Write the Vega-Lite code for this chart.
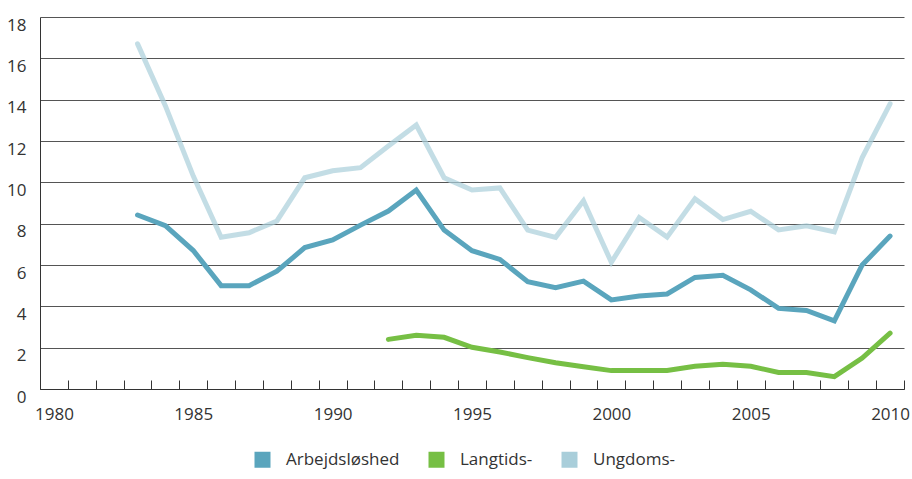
{
  "$schema": "https://vega.github.io/schema/vega-lite/v6.json",
  "width": 864,
  "height": 372,
  "autosize": {"type": "none"},
  "padding": {"left": 40, "top": 17, "right": 8, "bottom": 90},
  "background": "white",
  "config": {
    "view": {"stroke": null},
    "font": "Open Sans",
    "axis": {"labelFont": "Open Sans", "labelFontSize": 17, "labelColor": "#333333", "title": null}
  },
  "data": {
    "values": [
      {"year": 1983, "s": "Ungdoms-", "v": 16.7},
      {"year": 1984, "s": "Ungdoms-", "v": 13.7},
      {"year": 1985, "s": "Ungdoms-", "v": 10.3},
      {"year": 1986, "s": "Ungdoms-", "v": 7.34},
      {"year": 1987, "s": "Ungdoms-", "v": 7.56},
      {"year": 1988, "s": "Ungdoms-", "v": 8.13},
      {"year": 1989, "s": "Ungdoms-", "v": 10.22},
      {"year": 1990, "s": "Ungdoms-", "v": 10.56},
      {"year": 1991, "s": "Ungdoms-", "v": 10.71},
      {"year": 1992, "s": "Ungdoms-", "v": 11.76},
      {"year": 1993, "s": "Ungdoms-", "v": 12.77},
      {"year": 1994, "s": "Ungdoms-", "v": 10.22},
      {"year": 1995, "s": "Ungdoms-", "v": 9.63},
      {"year": 1996, "s": "Ungdoms-", "v": 9.73},
      {"year": 1997, "s": "Ungdoms-", "v": 7.69},
      {"year": 1998, "s": "Ungdoms-", "v": 7.34},
      {"year": 1999, "s": "Ungdoms-", "v": 9.11},
      {"year": 2000, "s": "Ungdoms-", "v": 6.13},
      {"year": 2001, "s": "Ungdoms-", "v": 8.3},
      {"year": 2002, "s": "Ungdoms-", "v": 7.35},
      {"year": 2003, "s": "Ungdoms-", "v": 9.2},
      {"year": 2004, "s": "Ungdoms-", "v": 8.2},
      {"year": 2005, "s": "Ungdoms-", "v": 8.6},
      {"year": 2006, "s": "Ungdoms-", "v": 7.7},
      {"year": 2007, "s": "Ungdoms-", "v": 7.9},
      {"year": 2008, "s": "Ungdoms-", "v": 7.6},
      {"year": 2009, "s": "Ungdoms-", "v": 11.2},
      {"year": 2010, "s": "Ungdoms-", "v": 13.8},
      {"year": 1983, "s": "Arbejdsløshed", "v": 8.42},
      {"year": 1984, "s": "Arbejdsløshed", "v": 7.9},
      {"year": 1985, "s": "Arbejdsløshed", "v": 6.7},
      {"year": 1986, "s": "Arbejdsløshed", "v": 5.0},
      {"year": 1987, "s": "Arbejdsløshed", "v": 5.0},
      {"year": 1988, "s": "Arbejdsløshed", "v": 5.7},
      {"year": 1989, "s": "Arbejdsløshed", "v": 6.84},
      {"year": 1990, "s": "Arbejdsløshed", "v": 7.21},
      {"year": 1991, "s": "Arbejdsløshed", "v": 7.93},
      {"year": 1992, "s": "Arbejdsløshed", "v": 8.61},
      {"year": 1993, "s": "Arbejdsløshed", "v": 9.63},
      {"year": 1994, "s": "Arbejdsløshed", "v": 7.69},
      {"year": 1995, "s": "Arbejdsløshed", "v": 6.69},
      {"year": 1996, "s": "Arbejdsløshed", "v": 6.27},
      {"year": 1997, "s": "Arbejdsløshed", "v": 5.19},
      {"year": 1998, "s": "Arbejdsløshed", "v": 4.9},
      {"year": 1999, "s": "Arbejdsløshed", "v": 5.22},
      {"year": 2000, "s": "Arbejdsløshed", "v": 4.31},
      {"year": 2001, "s": "Arbejdsløshed", "v": 4.5},
      {"year": 2002, "s": "Arbejdsløshed", "v": 4.6},
      {"year": 2003, "s": "Arbejdsløshed", "v": 5.4},
      {"year": 2004, "s": "Arbejdsløshed", "v": 5.5},
      {"year": 2005, "s": "Arbejdsløshed", "v": 4.8},
      {"year": 2006, "s": "Arbejdsløshed", "v": 3.9},
      {"year": 2007, "s": "Arbejdsløshed", "v": 3.8},
      {"year": 2008, "s": "Arbejdsløshed", "v": 3.3},
      {"year": 2009, "s": "Arbejdsløshed", "v": 6.0},
      {"year": 2010, "s": "Arbejdsløshed", "v": 7.4},
      {"year": 1992, "s": "Langtids-", "v": 2.4},
      {"year": 1993, "s": "Langtids-", "v": 2.6},
      {"year": 1994, "s": "Langtids-", "v": 2.5},
      {"year": 1995, "s": "Langtids-", "v": 2.02},
      {"year": 1996, "s": "Langtids-", "v": 1.79},
      {"year": 1997, "s": "Langtids-", "v": 1.52},
      {"year": 1998, "s": "Langtids-", "v": 1.27},
      {"year": 1999, "s": "Langtids-", "v": 1.08},
      {"year": 2000, "s": "Langtids-", "v": 0.89},
      {"year": 2001, "s": "Langtids-", "v": 0.9},
      {"year": 2002, "s": "Langtids-", "v": 0.9},
      {"year": 2003, "s": "Langtids-", "v": 1.1},
      {"year": 2004, "s": "Langtids-", "v": 1.2},
      {"year": 2005, "s": "Langtids-", "v": 1.1},
      {"year": 2006, "s": "Langtids-", "v": 0.8},
      {"year": 2007, "s": "Langtids-", "v": 0.8},
      {"year": 2008, "s": "Langtids-", "v": 0.6},
      {"year": 2009, "s": "Langtids-", "v": 1.5},
      {"year": 2010, "s": "Langtids-", "v": 2.7}
    ]
  },
  "mark": {"type": "line", "strokeWidth": 5, "strokeCap": "round", "strokeJoin": "miter"},
  "encoding": {
    "x": {
      "field": "year",
      "type": "ordinal",
      "sort": null,
      "scale": {
        "type": "band",
        "domain": [1980,1981,1982,1983,1984,1985,1986,1987,1988,1989,1990,1991,1992,1993,1994,1995,1996,1997,1998,1999,2000,2001,2002,2003,2004,2005,2006,2007,2008,2009,2010],
        "paddingInner": 0,
        "paddingOuter": 0
      },
      "axis": {
        "labelExpr": "datum.value % 5 === 0 ? datum.label : ''",
        "labelAngle": 0,
        "tickBand": "extent",
        "tickSize": -9,
        "tickColor": "#333333",
        "domainColor": "#333333",
        "labelPadding": 26,
        "labelOverlap": false
      }
    },
    "y": {
      "field": "v",
      "type": "quantitative",
      "scale": {"domain": [0, 18], "nice": false},
      "axis": {
        "values": [0, 2, 4, 6, 8, 10, 12, 14, 16, 18],
        "grid": true,
        "gridColor": "#555555",
        "gridWidth": 1,
        "ticks": false,
        "domain": true,
        "domainColor": "#333333",
        "labelPadding": 14,
        "labelOffset": 8
      }
    },
    "color": {
      "field": "s",
      "type": "nominal",
      "sort": ["Arbejdsløshed", "Langtids-", "Ungdoms-"],
      "scale": {
        "domain": ["Arbejdsløshed", "Langtids-", "Ungdoms-"],
        "range": ["#5aa5bd", "#76bf44", "#a9ceda"]
      },
      "legend": {
        "title": null,
        "orient": "none",
        "direction": "horizontal",
        "legendX": 214,
        "legendY": 434,
        "symbolType": "square",
        "symbolSize": 256,
        "symbolStrokeWidth": 0,
        "symbolOpacity": 1,
        "labelFont": "Open Sans",
        "labelFontSize": 17,
        "labelColor": "#333333",
        "labelOffset": 15,
        "columnPadding": 28,
        "encode": {
          "symbols": {
            "update": {
              "fill": {"scale": "color", "field": "value"},
              "fillOpacity": {"value": 1},
              "opacity": {"value": 1},
              "strokeWidth": {"value": 0}
            }
          }
        }
      }
    },
    "opacity": {
      "condition": {"test": "datum.s === 'Ungdoms-'", "value": 0.7},
      "value": 1
    },
    "detail": {"field": "s"}
  }
}
